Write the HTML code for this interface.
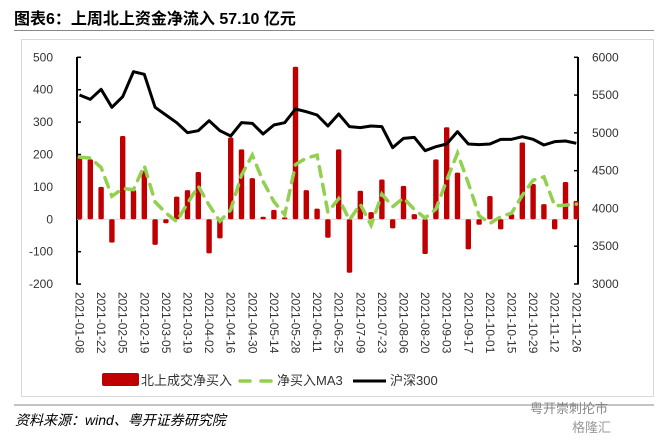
<!DOCTYPE html>
<html><head><meta charset="utf-8"><style>
body{margin:0;background:#fff;width:671px;height:438px;overflow:hidden;font-family:"Liberation Sans","Noto Sans CJK SC",sans-serif}
</style></head><body>
<svg id="s" width="671" height="438" xmlns="http://www.w3.org/2000/svg" font-family="Liberation Sans, Noto Sans CJK SC, sans-serif">
<text x="14" y="24" font-size="16" font-weight="bold" fill="#000">图表6：上周北上资金净流入 57.10 亿元</text>
<line x1="14" y1="30.5" x2="654" y2="30.5" stroke="#888" stroke-width="1"/>
<rect x="21.5" y="39.5" width="632" height="357" fill="none" stroke="#d9d9d9"/>
<line x1="14" y1="405" x2="654" y2="405" stroke="#888" stroke-width="1"/>
<text x="15" y="425" font-size="14" font-style="italic" fill="#000">资料来源：wind、粤开证券研究院</text>
<text x="530" y="413" font-size="13" fill="#888">粤开崇刺抡市</text>
<text x="572" y="432" font-size="13" fill="#999">格隆汇</text>
<g id="g"></g>
</svg>
<script>
var vals=[195,185,100,-72,257,90,150,-79,-12,70,90,146,-105,-59,252,216,127,8,29,6,471,90,33,-57,216,-165,88,22,123,-28,103,16,-107,185,284,144,-93,-17,72,-31,16,237,109,47,-31,115,57];
var hz=[135,148,118,172,140,65,73,172,195,218,248,242,212,242,258,218,220,252,225,218,177,185,195,228,192,230,233,228,230,293,265,262,302,290,282,245,282,284,282,268,268,260,268,285,275,273,280];
var y0=219.3,k=0.324;
function X(i){return 79.5+10.8*i}
function Y(v){return y0-v*k}
var h='';
// axes
h+='<line x1="77" y1="57" x2="77" y2="284.5" stroke="#000" stroke-width="2"/>';
h+='<line x1="578" y1="57" x2="578" y2="284.5" stroke="#000" stroke-width="2"/>';
for(var v=-200;v<=500;v+=100){var y=Y(v);h+='<line x1="77" y1="'+y+'" x2="81" y2="'+y+'" stroke="#000" stroke-width="1.5"/><text x="53" y="'+(y+4)+'" font-size="12" fill="#333" text-anchor="end">'+v+'</text>';}
for(var r=3000;r<=6000;r+=500){var y=57.3+(6000-r)/3000*226.7;h+='<line x1="574" y1="'+y+'" x2="578" y2="'+y+'" stroke="#000" stroke-width="1.5"/><text x="592" y="'+(y+4)+'" font-size="12" fill="#333">'+r+'</text>';}
h+='<line x1="77" y1="'+y0+'" x2="578" y2="'+y0+'" stroke="#d9d9d9" stroke-width="1"/>';
for(var i=0;i<47;i++){var v=vals[i];var a=Math.min(Y(v),y0),b=Math.max(Y(v),y0);h+='<rect x="'+(X(i)-2.7)+'" y="'+a+'" width="5.4" height="'+Math.max(b-a,1)+'" rx="1.5" fill="#c00000"/>';}
var p=[];for(var i=0;i<47;i++){var m=i<2?192-i*3:(vals[i]+vals[i-1]+vals[i-2])/3;p.push(X(i)+','+Y(m));}
h+='<polyline points="'+p.join(' ')+'" fill="none" stroke="#92d050" stroke-width="3.5" stroke-dasharray="10,8" stroke-linecap="round"/>';
var q=[];for(var i=0;i<47;i++)q.push(X(i)+','+(50+hz[i]/3));
h+='<polyline points="'+q.join(' ')+'" fill="none" stroke="#000" stroke-width="3" stroke-linejoin="round"/>';
for(var i=0;i<47;i+=2){var x=X(i)-4;h+='<text transform="translate('+x+',292) rotate(90)" font-size="12" fill="#333">2021-'+['01-08','01-22','02-05','02-19','03-05','03-19','04-02','04-16','04-30','05-14','05-28','06-11','06-25','07-09','07-23','08-06','08-20','09-03','09-17','10-01','10-15','10-29','11-12','11-26'][i/2]+'</text>';}
h+='<rect x="102" y="373" width="37" height="13" rx="2" fill="#c00000"/><text x="141" y="385" font-size="13" fill="#333">北上成交净买入</text>';
h+='<line x1="240" y1="381" x2="250" y2="381" stroke="#92d050" stroke-width="3.5" stroke-linecap="round"/><line x1="261" y1="381" x2="271" y2="381" stroke="#92d050" stroke-width="3.5" stroke-linecap="round"/><text x="277" y="385" font-size="13" fill="#333">净买入MA3</text>';
h+='<line x1="353" y1="381" x2="386" y2="381" stroke="#000" stroke-width="3"/><text x="390" y="385" font-size="13" fill="#333">沪深300</text>';
document.getElementById('g').innerHTML=h;
</script>
</body></html>
